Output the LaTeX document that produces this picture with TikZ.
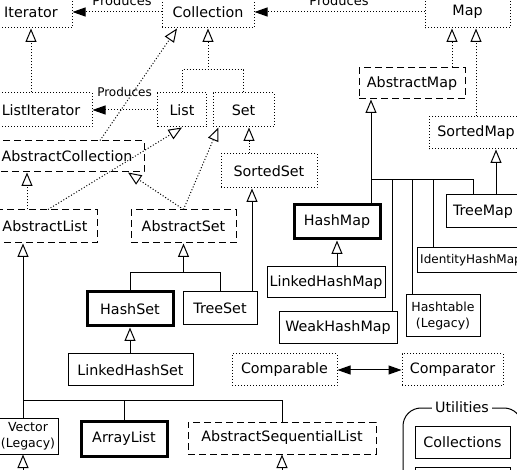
\documentclass[tikz,border=0pt]{standalone}
\usepackage{fontspec}
\setmainfont{DejaVu Sans}
\usetikzlibrary{arrows.meta}
\begin{document}
\begin{tikzpicture}[x=1pt,y=-1pt,
  base/.style={font=\fontsize{14.3}{17}\selectfont, inner sep=0pt, line width=1pt},
  sz/.style 2 args={minimum width=#1pt, minimum height=#2pt},
  iface/.style={base, draw, dash pattern=on 1pt off 2pt},
  absc/.style={base, draw, dash pattern=on 7pt off 4pt},
  cls/.style={base, draw},
  impl/.style={base, draw, line width=3pt},
  small/.style={font=\fontsize{12.5}{15.5}\selectfont, align=center},
  tiny/.style={font=\fontsize{12}{14}\selectfont},
  dotrel/.style={line width=1pt, dash pattern=on 1pt off 2pt},
  solrel/.style={line width=1pt},
  inh/.style={-{Triangle[length=13.5pt,width=11pt,fill=white]}},
  prod/.style={-{Triangle[length=13pt,width=9pt]}},
  both/.style={{Triangle[length=13pt,width=9pt]}-{Triangle[length=13pt,width=9pt]}},
  lbl/.style={font=\fontsize{13}{15}\selectfont, inner sep=0pt},
]
\fill[white] (0,0) rectangle (517,470);
\useasboundingbox (0,0) rectangle (517,470);
\clip (0,0) rectangle (517,470);

% ---- interfaces (dotted)
\node[iface, sz={82}{32}] (Iterator) at (31,12) {Iterator};
\node[iface, sz={92}{32}] (Collection) at (208,12) {Collection};
\node[iface, sz={85}{32}] (Map) at (467.5,12) {Map};
\node[iface, sz={102}{34}] (ListIterator) at (41,110) {ListIterator};
\node[iface, sz={49}{34}] (List) at (182,110) {List};
\node[iface, sz={61}{34}] (Set) at (243.5,110) {Set};
\node[iface, sz={94}{32}] (SortedMap) at (476,133) {SortedMap};
\node[iface, sz={96}{34}] (SortedSet) at (269,171) {SortedSet};
\node[iface, sz={105}{32}] (Comparable) at (284.5,370) {Comparable};
\node[iface, sz={101}{32}] (Comparator) at (452.5,370) {Comparator};

% ---- abstract classes (dashed)
\node[absc, sz={106}{31}] (AbstractMap) at (412,83.5) {AbstractMap};
\node[absc, sz={154}{31}] (AbstractCollection) at (67,156.5) {AbstractCollection};
\node[absc, sz={104}{33}] (AbstractList) at (45,226.5) {AbstractList};
\node[absc, sz={105}{33}] (AbstractSet) at (183.5,226.5) {AbstractSet};
\node[absc, sz={188}{32}] (AbstractSequentialList) at (282,438) {AbstractSequentialList};

% ---- implementations
\node[impl, sz={86}{34}] (HashMap) at (337,222) {HashMap};
\node[impl, sz={86}{34}] (HashSet) at (130,309) {HashSet};
\node[impl, sz={86}{35}] (ArrayList) at (124,438.5) {ArrayList};
\node[cls, sz={74}{33}] (TreeMap) at (483,211.5) {TreeMap};
\node[cls, tiny, sz={108}{25}] (IdentityHashMap) at (471,260.5) {IdentityHashMap};
\node[cls, sz={118}{31}] (LinkedHashMap) at (326,282.5) {LinkedHashMap};
\node[cls, small, sz={74}{42}] (Hashtable) at (443,316) {Hashtable\\(Legacy)};
\node[cls, sz={118}{32}] (WeakHashMap) at (338,328) {WeakHashMap};
\node[cls, sz={74}{33}] (TreeSet) at (220,308.5) {TreeSet};
\node[cls, sz={125}{32}] (LinkedHashSet) at (130.5,370) {LinkedHashSet};
\node[cls, small, sz={60}{36}] (Vector) at (28,436) {Vector\\(Legacy)};

% ---- utilities group
\node[base, draw, rounded corners=18pt, sz={119}{110}] (Utilities) at (462.5,463) {};
\node[base, fill=white, inner xsep=3pt] (UtilLabel) at (462,407) {Utilities};
\node[cls, sz={95}{32}] (Collections) at (462.5,442) {Collections};
\node[cls, sz={95}{32}] (Arrays) at (462.5,483) {};

% ---- "Produces" associations
\draw[dotrel, prod] (Collection.west) -- (Iterator.east);
\node[lbl] (prodA) at (122,1) {Produces};
\draw[dotrel, prod] (Map.west) -- (Collection.east);
\node[lbl] (prodB) at (339,1) {Produces};
\draw[dotrel, prod] (List.west) -- (ListIterator.east);
\node[lbl, font=\fontsize{12}{14}\selectfont] (prodC) at (124.5,92) {Produces};

% ---- interface inheritance
\draw[dotrel, inh] (Iterator.south |- ListIterator.north) -- (Iterator.south);
\coordinate (lsbus) at (208,70);
\draw[dotrel] (List.north) -- (List.north |- lsbus) -- (Set.north |- lsbus) -- (Set.north);
\draw[dotrel, inh] (lsbus) -- (Collection.south);
\draw[dotrel, inh] ([xshift=5.5]Set.south |- SortedSet.north) -- ([xshift=5.5]Set.south);
\draw[dotrel, inh] ([xshift=40]AbstractMap.north) -- ([xshift=40]AbstractMap.north |- Map.south);
\draw[dotrel, inh] (SortedMap.north) -- (SortedMap.north |- Map.south);

% ---- abstract implementations of interfaces
\draw[dotrel, inh] ([xshift=33]AbstractCollection.north) -- ([xshift=-31]Collection.south);
\draw[dotrel, inh] ([xshift=-18]AbstractList.north) -- ([xshift=-18]AbstractList.north |- AbstractCollection.south);
\draw[dotrel, inh] ([xshift=3]AbstractList.north) -- (List.south);
\draw[dotrel, inh] (AbstractSet.north) -- ([xshift=61]AbstractCollection.south);
\draw[dotrel, inh] (AbstractSet.north) -- ([xshift=-25]Set.south);

% ---- set classes
\coordinate (setbus) at (183.5,273);
\draw[solrel] (HashSet.north) |- (TreeSet.north |- setbus) -- (TreeSet.north);
\draw[solrel, inh] (setbus) -- (AbstractSet.south);
\draw[solrel, inh] ([xshift=32]TreeSet.north) -- ([xshift=32]TreeSet.north |- SortedSet.south);
\draw[solrel, inh] (HashSet.south |- LinkedHashSet.north) -- (HashSet.south);

% ---- list classes
\coordinate (listbus) at (23,401);
\draw[solrel, inh] ([xshift=-5]Vector.north) -- ([xshift=-5]Vector.north |- AbstractList.south);
\draw[solrel] (listbus) -| (AbstractSequentialList.north);
\draw[solrel] (ArrayList.north) -- (ArrayList.north |- listbus);
\coordinate (belowVector) at (23,490);
\coordinate (belowASL) at (282,490);
\draw[solrel, inh] (belowVector) -- (belowVector |- Vector.south);
\draw[solrel, inh] (belowASL) -- (AbstractSequentialList.south);

% ---- map classes
\coordinate (mapbus) at (371,180);
\draw[solrel, inh] (mapbus) -- (mapbus |- AbstractMap.south);
\draw[solrel] (mapbus |- HashMap.north) -- (mapbus) -| ([xshift=-10]TreeMap.north);
\draw[solrel] ([xshift=54]WeakHashMap.north) -- ([xshift=54]WeakHashMap.north |- mapbus);
\draw[solrel] ([xshift=-31]Hashtable.north) -- ([xshift=-31]Hashtable.north |- mapbus);
\draw[solrel] ([xshift=-38]IdentityHashMap.north) -- ([xshift=-38]IdentityHashMap.north |- mapbus);
\draw[solrel, inh] ([xshift=13]TreeMap.north) -- ([xshift=13]TreeMap.north |- SortedMap.south);
\draw[solrel, inh] (HashMap.south |- LinkedHashMap.north) -- (HashMap.south);

% ---- comparable / comparator
\draw[solrel, both] (Comparable.east) -- (Comparator.west);
\end{tikzpicture}
\end{document}
